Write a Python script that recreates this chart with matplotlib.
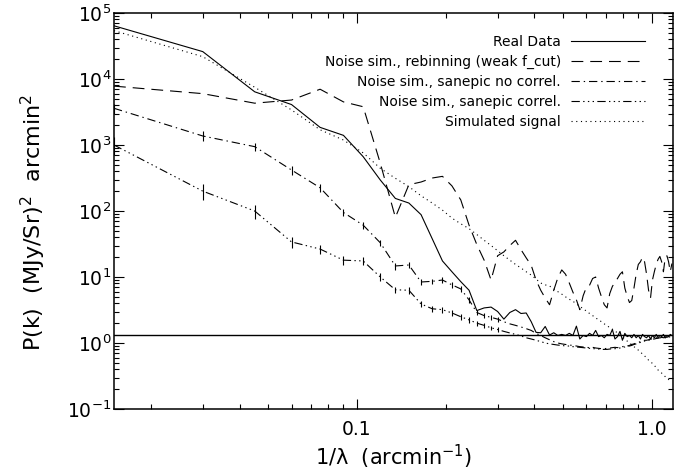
import numpy as np
import matplotlib
matplotlib.use("Agg")
import matplotlib.pyplot as plt
from matplotlib.ticker import FixedLocator, FixedFormatter, LogLocator, NullFormatter

plt.rcParams['font.family'] = ['DejaVu Sans']
plt.rcParams['lines.scale_dashes'] = False
plt.rcParams['mathtext.default'] = 'regular'

# spatial frequency bins (arcmin^-1)
k = [0.015, 0.030, 0.045, 0.060, 0.075, 0.090, 0.105, 0.120, 0.135, 0.150,
     0.165, 0.180, 0.195, 0.210, 0.225, 0.240, 0.255, 0.270, 0.285, 0.300,
     0.315, 0.330, 0.345, 0.360, 0.375, 0.390, 0.405, 0.420, 0.435, 0.450,
     0.465, 0.480, 0.495, 0.510, 0.525, 0.540, 0.555, 0.570, 0.585, 0.600,
     0.615, 0.630, 0.645, 0.660, 0.675, 0.690, 0.705, 0.720, 0.735, 0.750,
     0.765, 0.780, 0.795, 0.810, 0.825, 0.840, 0.855, 0.870, 0.885, 0.900,
     0.915, 0.930, 0.945, 0.960, 0.975, 0.990, 1.005, 1.020, 1.035, 1.050,
     1.065, 1.080, 1.095, 1.110, 1.125, 1.140, 1.155, 1.170]

real_data = [64000, 26000, 6400, 4100, 1850, 1400, 665, 295, 155, 132,
             88, 38, 17.5, 12, 8.5, 6.3, 3.1, 3.4, 3.5, 3.0,
             2.3, 2.9, 3.2, 2.8, 2.85, 2.1, 1.45, 1.43, 1.78, 1.32,
             1.43, 1.3, 1.35, 1.3, 1.4, 1.3, 1.8, 1.15, 1.3, 1.25,
             1.4, 1.3, 1.55, 1.25, 1.3, 1.2, 1.35, 1.3, 1.6, 1.15,
             1.25, 1.5, 1.1, 1.4, 1.25, 1.3, 1.2, 1.35, 1.2, 1.3,
             1.15, 1.35, 1.25, 1.2, 1.3, 1.15, 1.3, 1.2, 1.35, 1.2,
             1.3, 1.25, 1.35, 1.2, 1.3, 1.25, 1.35, 1.3]

rebinning = [7800, 6000, 4300, 4800, 7000, 4500, 3800, 530, 80, 250,
             275, 316, 335, 240, 147, 61, 31, 18, 9, 21,
             24, 30, 36, 26, 19.5, 15, 9, 6.3, 4.8, 3.8,
             6.3, 9.7, 12.8, 11, 8.1, 5.9, 4.5, 3.2, 5.2, 7,
             7.5, 9.5, 10, 6.8, 5, 3.8, 3.4, 5.6, 7.2, 8.3,
             9.5, 11, 12, 6.8, 5.1, 4.1, 4.4, 6.8, 11, 15.5,
             17, 20, 17, 11, 6.3, 4.8, 9, 12, 15.5, 18.5,
             20.5, 17, 12, 19.5, 21, 17, 12, 16]

sanepic_nocorr = [3600, 1370, 944, 418, 225, 95, 61, 33, 14.7, 15.2,
                  8.4, 8.6, 9.0, 7.6, 6.6, 4.5, 2.9, 2.6, 2.45, 2.3,
                  2.1, 1.95, 1.85, 1.75, 1.65, 1.55, 1.4, 1.3, 1.2, 1.12,
                  1.05, 1.0, 0.97, 0.95, 0.93, 0.92, 0.9, 0.88, 0.87, 0.86,
                  0.85, 0.86, 0.84, 0.83, 0.82, 0.82, 0.83, 0.84, 0.85, 0.86,
                  0.85, 0.87, 0.88, 0.9, 0.9, 0.92, 0.95, 0.97, 1.0, 1.02,
                  1.05, 1.07, 1.1, 1.1, 1.12, 1.15, 1.15, 1.17, 1.2, 1.18,
                  1.2, 1.22, 1.2, 1.23, 1.22, 1.25, 1.22, 1.25]

sanepic_corr = [1000, 200, 100, 34, 26.5, 18, 17.5, 10, 6.4, 6.3,
                3.9, 3.3, 3.2, 2.85, 2.5, 2.24, 2.0, 1.85, 1.7, 1.6,
                1.5, 1.42, 1.35, 1.28, 1.2, 1.15, 1.1, 1.05, 1.0, 0.97,
                0.95, 0.93, 0.92, 0.9, 0.9, 0.88, 0.87, 0.86, 0.85, 0.84,
                0.83, 0.82, 0.82, 0.81, 0.8, 0.8, 0.8, 0.81, 0.82, 0.82,
                0.83, 0.84, 0.86, 0.87, 0.89, 0.9, 0.92, 0.95, 0.97, 1.0,
                1.02, 1.05, 1.07, 1.1, 1.1, 1.12, 1.15, 1.15, 1.17, 1.18,
                1.2, 1.2, 1.22, 1.2, 1.23, 1.22, 1.25, 1.23]

simulated = [54000, 21800, 7500, 3400, 1700, 1190, 760, 444, 313, 234,
             170, 132, 103, 78, 64, 54, 44, 36, 30, 25,
             21, 18, 15.5, 13.7, 12, 10.7, 9.3, 8.1, 7.6, 7.3,
             6.6, 6.0, 5.5, 5.0, 4.6, 4.3, 3.9, 3.6, 3.3, 3.05,
             2.8, 2.6, 2.4, 2.25, 2.1, 1.95, 1.82, 1.72, 1.62, 1.52,
             1.42, 1.33, 1.24, 1.15, 1.07, 1.0, 0.94, 0.88, 0.83, 0.78,
             0.73, 0.68, 0.64, 0.59, 0.55, 0.52, 0.49, 0.46, 0.42, 0.39,
             0.37, 0.35, 0.33, 0.31, 0.29, 0.28, 0.27, 0.26]

# fractional error bars on the first bins of the sanepic simulations
err_nocorr = [0.18, 0.17, 0.14, 0.16, 0.14, 0.13, 0.13, 0.12, 0.12, 0.11,
              0.11, 0.10, 0.10, 0.10, 0.09, 0.09, 0.09, 0.08, 0.08, 0.08]
err_corr = [0.30, 0.27, 0.24, 0.19, 0.16, 0.15, 0.14, 0.13, 0.12, 0.12,
            0.11, 0.11, 0.10, 0.10, 0.10, 0.09, 0.09, 0.09, 0.08, 0.08]

noise_level = 1.3

x_ticks = [0.1, 1.0]
x_tick_labels = ["0.1", "1.0"]
y_ticks = [1e-1, 1e0, 1e1, 1e2, 1e3, 1e4, 1e5]
y_tick_labels = [r"$10^{-1}$", r"$10^{0}$", r"$10^{1}$", r"$10^{2}$",
                 r"$10^{3}$", r"$10^{4}$", r"$10^{5}$"]

labels = ["Real Data",
          "Noise sim., rebinning (weak f_cut)",
          "Noise sim., sanepic no correl.",
          "Noise sim., sanepic correl.",
          "Simulated signal"]

fig = plt.figure(figsize=(6.86, 4.76), dpi=100)
ax = fig.add_axes([114/686, (476-409)/476, 559/686, 396/476])

lw = 0.8
ax.plot(k, real_data, color='k', lw=lw, linestyle='-', label=labels[0])
ax.plot(k, rebinning, color='k', lw=lw, linestyle=(0, (8.5, 5.0)), label=labels[1])
ax.plot(k, sanepic_nocorr, color='k', lw=lw, linestyle=(0, (6.0, 2.8, 1.0, 2.8)), label=labels[2])
ax.plot(k, sanepic_corr, color='k', lw=lw,
        linestyle=(0, (6.0, 2.4, 1.0, 2.4, 1.0, 2.4, 1.0, 2.4)), label=labels[3])
ax.plot(k, simulated, color='k', lw=lw, linestyle=(0, (0.8, 2.6)), label=labels[4])
ax.axhline(noise_level, color='k', lw=1.0)

n1 = len(err_nocorr)
ax.errorbar(k[:n1], sanepic_nocorr[:n1],
            yerr=np.array(err_nocorr) * np.array(sanepic_nocorr[:n1]),
            fmt='none', ecolor='k', elinewidth=0.8, capsize=0)
n2 = len(err_corr)
ax.errorbar(k[:n2], sanepic_corr[:n2],
            yerr=np.array(err_corr) * np.array(sanepic_corr[:n2]),
            fmt='none', ecolor='k', elinewidth=0.8, capsize=0)

ax.set_xscale('log')
ax.set_yscale('log')
ax.set_xlim(0.015, 1.18)
ax.set_ylim(0.1, 1e5)

ax.xaxis.set_major_locator(FixedLocator(x_ticks))
ax.xaxis.set_major_formatter(FixedFormatter(x_tick_labels))
ax.xaxis.set_minor_locator(LogLocator(base=10, subs=np.arange(2, 10), numticks=20))
ax.xaxis.set_minor_formatter(NullFormatter())
ax.yaxis.set_major_locator(FixedLocator(y_ticks))
ax.yaxis.set_major_formatter(FixedFormatter(y_tick_labels))
ax.yaxis.set_minor_locator(LogLocator(base=10, subs=np.arange(2, 10), numticks=20))
ax.yaxis.set_minor_formatter(NullFormatter())

ax.tick_params(which='both', direction='in', top=True, right=True, width=0.8, colors='k')
ax.tick_params(which='major', length=7.5)
ax.tick_params(which='minor', length=3.5)
ax.tick_params(axis='x', which='major', pad=8, labelsize=13.5)
ax.tick_params(axis='y', which='major', pad=2, labelsize=13.5)
for s in ax.spines.values():
    s.set_linewidth(1.1)
ax.xaxis.get_offset_text().set_visible(False)
ax.yaxis.get_offset_text().set_visible(False)

ax.set_xlabel(r"1/$\lambda$  (arcmin$^{-1}$)", fontsize=15)
ax.set_ylabel(r"P(k)  (MJy/Sr)$^{2}$  arcmin$^{2}$", fontsize=16)
ax.xaxis.set_label_coords(0.5, -0.085)
ax.yaxis.set_label_coords(-0.118, 0.47)

leg = ax.legend(loc='upper right', bbox_to_anchor=(0.950, 0.944), frameon=False,
                markerfirst=False, fontsize=10, handlelength=5.3, handletextpad=0.75,
                labelspacing=0.42, borderpad=0, borderaxespad=0)

fig.savefig("out.png", dpi=100)
